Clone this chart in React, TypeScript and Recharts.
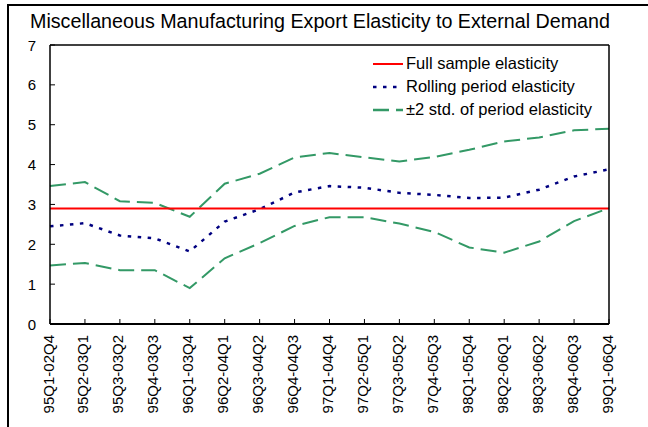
import React from "react";
import { LineChart, Line, XAxis, YAxis, ReferenceLine } from "recharts";

const periods = [
  "95Q1-02Q4", "95Q2-03Q1", "95Q3-03Q2", "95Q4-03Q3", "96Q1-03Q4", "96Q2-04Q1",
  "96Q3-04Q2", "96Q4-04Q3", "97Q1-04Q4", "97Q2-05Q1", "97Q3-05Q2", "97Q4-05Q3",
  "98Q1-05Q4", "98Q2-06Q1", "98Q3-06Q2", "98Q4-06Q3", "99Q1-06Q4",
];
const rolling = [2.45, 2.53, 2.22, 2.15, 1.82, 2.57, 2.88, 3.3, 3.46, 3.42, 3.29, 3.24, 3.16, 3.17, 3.37, 3.7, 3.88];
const upperBand = [3.46, 3.56, 3.08, 3.04, 2.69, 3.52, 3.77, 4.18, 4.29, 4.18, 4.08, 4.19, 4.37, 4.58, 4.68, 4.86, 4.9];
const lowerBand = [1.47, 1.53, 1.35, 1.35, 0.9, 1.65, 2.03, 2.46, 2.68, 2.68, 2.52, 2.31, 1.92, 1.79, 2.07, 2.58, 2.91];
const fullSample = 2.9;
const yTicks = [0, 1, 2, 3, 4, 5, 6, 7];

const data = periods.map((p, i) => ({
  period: p,
  full: fullSample,
  rolling: rolling[i],
  upper: upperBand[i],
  lower: lowerBand[i],
}));

const FONT = "'Liberation Sans', Arial, sans-serif";
const RED = "#ff0000";
const NAVY = "#000080";
const GREEN = "#339966";

const LeftTick = ({ x, y, payload }: any) => (
  <g>
    <line x1={x} y1={y} x2={x + 5} y2={y} stroke="#000" strokeWidth={1} />
    <text x={x - 14} y={y} textAnchor="end" dominantBaseline="central" fontSize={15} fontFamily={FONT} fill="#000">
      {payload.value}
    </text>
  </g>
);

const RightTick = ({ x, y, payload }: any) => (
  <g>
    <line x1={x} y1={y} x2={x - 5} y2={y} stroke="#000" strokeWidth={1} />
    <text x={x + 13} y={y} textAnchor="start" dominantBaseline="central" fontSize={15} fontFamily={FONT} fill="#000">
      {payload.value}
    </text>
  </g>
);

const BottomTick = ({ x, y, payload }: any) => (
  <g>
    <line x1={x} y1={y} x2={x} y2={y - 5} stroke="#000" strokeWidth={1} />
    <text
      transform={`translate(${x + 3.5},${y + 11}) rotate(-90)`}
      textAnchor="end"
      fontSize={15}
      fontFamily={FONT}
      fill="#000"
    >
      {payload.value}
    </text>
  </g>
);

const legendItems = [
  { label: "Full sample elasticity", color: RED, dash: "", width: 2 },
  { label: "Rolling period elasticity", color: NAVY, dash: "3.5 6.5", width: 2.5 },
  { label: "\u00b12 std. of period elasticity", color: GREEN, dash: "16 7", width: 2.5 },
];

export default function App() {
  return (
    <div style={{ position: "absolute", left: 0, top: 0, width: 648, height: 427, background: "#fff", fontFamily: FONT }}>
      <div
        style={{
          position: "absolute",
          left: 7,
          top: 4,
          width: 639,
          height: 421,
          borderLeft: "2px solid #000",
          borderTop: "2px solid #000",
        }}
      />
      <div style={{ position: "absolute", left: 30, top: 10, fontSize: 19.7, color: "#000", whiteSpace: "nowrap" }}>
        Miscellaneous Manufacturing Export Elasticity to External Demand
      </div>
      <div style={{ position: "absolute", left: 0, top: 0 }}>
        <LineChart width={648} height={427} data={data} margin={{ top: 45, right: 0, bottom: 0, left: 0 }}>
          <XAxis
            dataKey="period"
            height={103}
            interval={0}
            tickSize={0}
            tickMargin={0}
            tickLine={false}
            axisLine={{ stroke: "#000", strokeWidth: 2 }}
            tick={<BottomTick />}
          />
          <YAxis
            yAxisId="left"
            width={50}
            domain={[0, 7]}
            ticks={yTicks}
            tickSize={0}
            tickMargin={0}
            tickLine={false}
            axisLine={{ stroke: "#000", strokeWidth: 1.5 }}
            tick={<LeftTick />}
          />
          <YAxis
            yAxisId="right"
            orientation="right"
            width={39}
            domain={[0, 7]}
            ticks={yTicks}
            tickSize={0}
            tickMargin={0}
            tickLine={false}
            axisLine={{ stroke: "#000", strokeWidth: 1.5 }}
            tick={<RightTick />}
          />
          <ReferenceLine yAxisId="left" y={7} stroke="#000" strokeWidth={1.5} />
          <Line yAxisId="left" dataKey="upper" stroke={GREEN} strokeWidth={2} strokeDasharray="16 7" dot={false} isAnimationActive={false} />
          <Line yAxisId="left" dataKey="lower" stroke={GREEN} strokeWidth={2} strokeDasharray="16 7" dot={false} isAnimationActive={false} />
          <Line yAxisId="left" dataKey="rolling" stroke={NAVY} strokeWidth={2.5} strokeDasharray="3.5 6.5" dot={false} isAnimationActive={false} />
          <Line yAxisId="left" dataKey="full" stroke={RED} strokeWidth={2} dot={false} isAnimationActive={false} />
        </LineChart>
      </div>
      <div style={{ position: "absolute", left: 373, top: 52 }}>
        {legendItems.map((it) => (
          <div key={it.label} style={{ display: "flex", alignItems: "center", height: 23 }}>
            <svg width={30} height={10} style={{ marginRight: 3 }}>
              <line x1={0} y1={5} x2={30} y2={5} stroke={it.color} strokeWidth={it.width} strokeDasharray={it.dash || undefined} />
            </svg>
            <span style={{ fontSize: 16.5, color: "#000", whiteSpace: "nowrap" }}>{it.label}</span>
          </div>
        ))}
      </div>
    </div>
  );
}
